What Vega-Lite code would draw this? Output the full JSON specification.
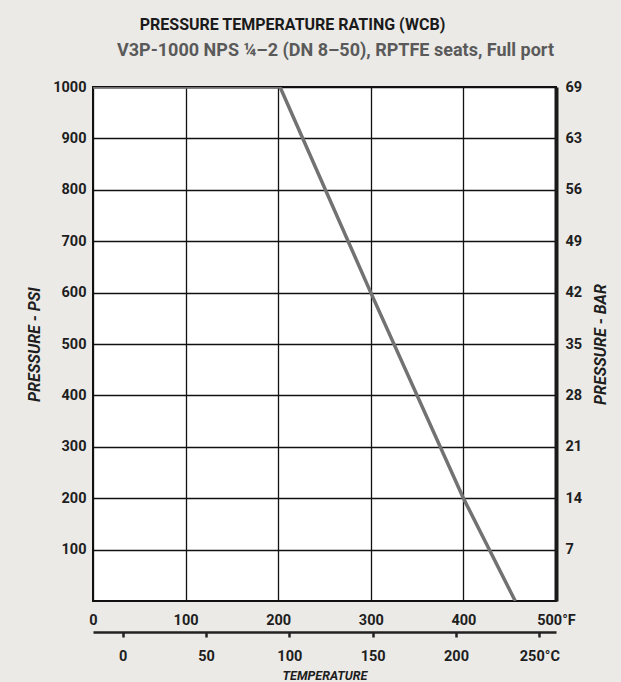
{
  "$schema": "https://vega.github.io/schema/vega-lite/v6.json",
  "width": 463,
  "height": 514,
  "autosize": "none",
  "padding": {"left": 93, "top": 87, "right": 65, "bottom": 81},
  "background": "#ebeae7",
  "title": {
    "text": "PRESSURE TEMPERATURE RATING (WCB)",
    "anchor": "middle",
    "dx": -32,
    "offset": 8,
    "font": "Roboto, sans-serif",
    "fontSize": 16,
    "fontWeight": "bold",
    "color": "#1a1a1a"
  },
  "config": {
    "view": {"fill": "white", "stroke": "#111111", "strokeWidth": 2},
    "axis": {
      "labelFont": "Roboto, sans-serif",
      "labelFontSize": 14.5,
      "labelFontWeight": "bold",
      "labelColor": "#1e1e1e",
      "titleFont": "Roboto, sans-serif",
      "titleColor": "#1e1e1e",
      "labelFlush": false,
      "labelOverlap": false
    }
  },
  "data": {
    "values": [
      {"F": 0, "C": -17.8, "psi": 1000},
      {"F": 202, "C": 94.4, "psi": 1000},
      {"F": 300, "C": 148.9, "psi": 600},
      {"F": 400, "C": 204.4, "psi": 200},
      {"F": 456, "C": 235.6, "psi": 0}
    ]
  },
  "layer": [
    {
      "mark": {"type": "line", "color": "#727272", "strokeWidth": 3.5, "clip": true},
      "encoding": {
        "x": {
          "field": "F",
          "type": "quantitative",
          "scale": {"domain": [0, 500], "nice": false, "zero": false},
          "axis": {
            "orient": "bottom",
            "values": [0, 100, 200, 300, 400, 500],
            "format": "d",
            "labelExpr": "datum.value == 500 ? '500°F' : datum.label",
            "grid": true,
            "gridColor": "#111111",
            "gridWidth": 1.3,
            "ticks": false,
            "domain": false,
            "labelPadding": 12,
            "title": null
          }
        },
        "y": {
          "field": "psi",
          "type": "quantitative",
          "scale": {"domain": [0, 1000], "nice": false},
          "axis": {
            "orient": "left",
            "values": [100, 200, 300, 400, 500, 600, 700, 800, 900, 1000],
            "format": "d",
            "grid": true,
            "gridColor": "#111111",
            "gridWidth": 1.3,
            "ticks": false,
            "domain": false,
            "labelPadding": 7,
            "title": "PRESSURE - PSI",
            "titleFontSize": 16,
            "titleFontStyle": "italic",
            "titleFontWeight": "bold",
            "titlePadding": 10
          }
        }
      }
    },
    {
      "mark": {"type": "line", "opacity": 0},
      "encoding": {
        "x": {
          "field": "C",
          "type": "quantitative",
          "scale": {"domain": [-17.7778, 260], "nice": false, "zero": false},
          "axis": {
            "orient": "bottom",
            "offset": 31,
            "values": [0, 50, 100, 150, 200, 250],
            "format": "d",
            "labelExpr": "datum.value == 250 ? '250°C' : datum.label",
            "grid": false,
            "domain": true,
            "domainColor": "#222222",
            "domainWidth": 2.5,
            "ticks": true,
            "tickColor": "#222222",
            "tickWidth": 2.5,
            "tickSize": 5,
            "labelPadding": 12,
            "title": "TEMPERATURE",
            "titleFontSize": 12.5,
            "titleFontStyle": "italic",
            "titleFontWeight": "bold",
            "titlePadding": 7
          }
        },
        "y": {
          "field": "psi",
          "type": "quantitative",
          "scale": {"domain": [0, 1000], "nice": false},
          "axis": {
            "orient": "right",
            "values": [100, 200, 300, 400, 500, 600, 700, 800, 900, 1000],
            "labelExpr": "datum.value == 1000 ? '69' : toString(round(datum.value * 7 / 100))",
            "grid": false,
            "domain": true,
            "domainColor": "#1a1a1a",
            "domainWidth": 4,
            "ticks": false,
            "labelPadding": 9,
            "title": "PRESSURE - BAR",
            "titleAngle": 270,
            "titleBaseline": "top",
            "titleFontSize": 16,
            "titleFontStyle": "italic",
            "titleFontWeight": "bold",
            "titlePadding": 11
          }
        }
      }
    },
    {
      "mark": {"type": "line", "opacity": 0},
      "encoding": {
        "x": {
          "field": "F",
          "type": "quantitative",
          "scale": {"domain": [0, 500], "nice": false, "zero": false},
          "axis": {
            "orient": "top",
            "labels": false,
            "ticks": false,
            "domain": false,
            "grid": false,
            "title": "V3P-1000 NPS ¼–2 (DN 8–50), RPTFE seats, Full port",
            "titleFontSize": 18,
            "titleFontWeight": "bold",
            "titleColor": "#5a5a5a",
            "titleX": 242,
            "titleY": -32,
            "titleAlign": "center",
            "titleBaseline": "alphabetic"
          }
        }
      }
    }
  ],
  "resolve": {"scale": {"x": "independent", "y": "independent"}, "axis": {"x": "independent", "y": "independent"}}
}
